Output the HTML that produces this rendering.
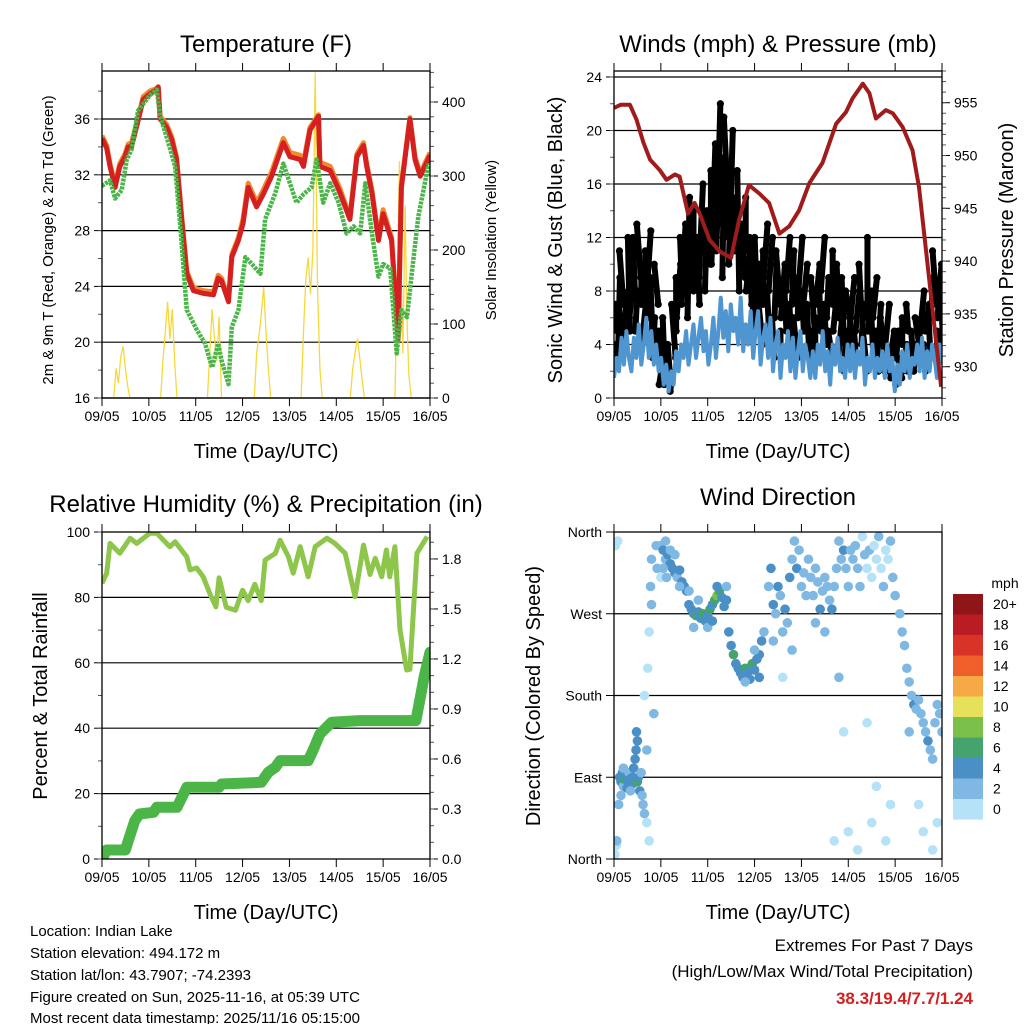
<!DOCTYPE html>
<html><head><meta charset="utf-8"><style>
html,body{margin:0;padding:0;background:#fff;}
svg{display:block;font-family:"Liberation Sans",Arial,sans-serif;}
</style></head><body>
<svg id="chart" width="1024" height="1024" viewBox="0 0 1024 1024" xmlns="http://www.w3.org/2000/svg">
<defs>
<clipPath id="c1"><rect x="102" y="71" width="328" height="327"/></clipPath>
<clipPath id="c2"><rect x="614" y="71" width="328" height="327"/></clipPath>
<clipPath id="c3"><rect x="102" y="532" width="328" height="327"/></clipPath>
<clipPath id="c4"><rect x="614" y="532" width="328" height="327"/></clipPath>
</defs>
<text x="266" y="52" font-size="24" text-anchor="middle">Temperature (F)</text>
<text x="778" y="52" font-size="24" text-anchor="middle">Winds (mph) &amp; Pressure (mb)</text>
<text x="266" y="512" font-size="24" text-anchor="middle">Relative Humidity (%) &amp; Precipitation (in)</text>
<text x="778" y="505" font-size="24" text-anchor="middle">Wind Direction</text>
<text x="266" y="458" font-size="20" text-anchor="middle">Time (Day/UTC)</text>
<text x="778" y="458" font-size="20" text-anchor="middle">Time (Day/UTC)</text>
<text x="266" y="919" font-size="20" text-anchor="middle">Time (Day/UTC)</text>
<text x="778" y="919" font-size="20" text-anchor="middle">Time (Day/UTC)</text>
<text transform="translate(53,240) rotate(-90)" font-size="15" text-anchor="middle">2m &amp; 9m T (Red, Orange) &amp; 2m Td (Green)</text>
<text transform="translate(496,240) rotate(-90)" font-size="15" text-anchor="middle">Solar Insolation (Yellow)</text>
<text transform="translate(562,240) rotate(-90)" font-size="20" text-anchor="middle">Sonic Wind &amp; Gust (Blue, Black)</text>
<text transform="translate(1013,240) rotate(-90)" font-size="20" text-anchor="middle">Station Pressure (Maroon)</text>
<text transform="translate(47,696) rotate(-90)" font-size="20" text-anchor="middle">Percent &amp; Total Rainfall</text>
<text transform="translate(540,696) rotate(-90)" font-size="20" text-anchor="middle">Direction (Colored By Speed)</text>
<g font-size="15">
<text x="30" y="936">Location: Indian Lake</text>
<text x="30" y="958">Station elevation: 494.172 m</text>
<text x="30" y="980">Station lat/lon: 43.7907; -74.2393</text>
<text x="30" y="1002">Figure created on Sun, 2025-11-16, at 05:39 UTC</text>
<text x="30" y="1023">Most recent data timestamp: 2025/11/16 05:15:00</text>
</g>
<g font-size="17" text-anchor="end">
<text x="973" y="951">Extremes For Past 7 Days</text>
<text x="973" y="977">(High/Low/Max Wind/Total Precipitation)</text>
<text x="973" y="1004" fill="#d42020" font-weight="bold">38.3/19.4/7.7/1.24</text>
</g>
</svg>
<script>
// ---------- data ----------
const dayLabels = ["09/05","10/05","11/05","12/05","13/05","14/05","15/05","16/05"];
const tempTicks = [16,20,24,28,32,36];
const solarTicks = [0,100,200,300,400];
const windTicks = [0,4,8,12,16,20,24];
const presTicks = [930,935,940,945,950,955];
const rhTicks = [0,20,40,60,80,100];
const precipTicks = ["0.0","0.3","0.6","0.9","1.2","1.5","1.8"];
const dirTickLabels = ["North","East","South","West","North"];
const speedLabels = ["20+","18","16","14","12","10","8","6","4","2","0"];
const speedColors = ["#8f1518","#b91c22","#d93226","#ef5f2a","#f6a945","#e6e05a","#7bc04b","#45a46e","#4a8fc6","#7fb9e3","#b5e2f7"];

const tT = [0,0.1,0.17,0.28,0.38,0.49,0.56,0.63,0.77,0.88,1.02,1.17,1.2,1.24,1.38,1.49,1.59,1.7,1.81,1.95,2.16,2.38,2.48,2.55,2.7,2.77,2.91,3.01,3.12,3.3,3.44,3.62,3.87,4.01,4.23,4.3,4.44,4.62,4.65,4.87,5.08,5.29,5.44,5.58,5.65,5.76,5.9,6.0,6.18,6.32,6.39,6.57,6.68,6.79,7.0];
const tempRed = [34.6,33.9,32.6,31.1,32.6,33.3,34.0,34.0,35.9,37.4,37.8,38.1,38.3,36.0,35.4,34.5,33.1,28.8,24.9,23.7,23.5,23.4,24.6,24.4,22.9,26.1,27.3,28.5,31.1,29.7,30.6,31.9,34.3,33.3,33.1,32.6,35.2,36.2,32.6,32.3,30.7,28.8,33.3,34.1,32.6,30.7,27.3,29.2,27.3,20.2,31.1,36.0,33.1,31.9,33.4];
const tempOrange = [34.8,34.1,32.8,31.3,32.8,33.5,34.2,34.3,36.1,37.6,38.0,38.2,38.3,36.2,35.6,34.7,33.3,29.0,25.1,23.9,23.7,23.6,24.8,24.6,23.1,26.3,27.5,28.8,31.4,30.0,30.9,32.2,34.6,33.6,33.4,32.9,35.4,36.3,32.9,32.6,31.0,29.0,33.5,34.3,32.8,30.9,27.5,29.5,27.5,20.4,31.3,36.1,33.3,32.1,33.6];
const tD = [0,0.17,0.28,0.42,0.53,0.63,0.77,1.02,1.17,1.24,1.38,1.56,1.67,1.81,2.02,2.2,2.35,2.48,2.55,2.7,2.77,2.91,3.06,3.2,3.38,3.48,3.7,3.87,4.04,4.15,4.3,4.47,4.58,4.72,4.87,5.05,5.22,5.37,5.51,5.62,5.76,5.9,6.0,6.15,6.29,6.39,6.51,6.62,6.75,6.97];
const dewGreen = [31.2,31.6,30.3,30.9,33.1,33.8,36.6,37.7,38.1,36.2,34.7,32.6,28.3,22.3,20.9,19.9,18.2,19.9,18.7,17.0,21.1,22.3,26.1,25.6,24.9,28.8,30.7,32.8,31.1,30.0,30.6,31.1,33.1,30.0,31.4,30.0,27.8,28.3,27.8,31.4,27.8,24.7,25.6,25.3,19.2,22.3,21.8,25.2,29.0,32.8];
const tS = [0.25,0.3,0.35,0.4,0.45,0.5,0.55,0.6,1.25,1.3,1.35,1.4,1.45,1.5,1.55,1.6,2.25,2.3,2.35,2.4,2.45,2.5,2.55,3.25,3.3,3.38,3.45,3.5,3.55,3.6,4.25,4.3,4.35,4.4,4.45,4.5,4.55,4.6,4.65,4.7,5.3,5.35,5.4,5.45,5.5,5.55,5.6,6.25,6.3,6.35,6.38,6.42,6.47,6.5,6.55,6.6];
const solar = [0,40,20,55,70,40,15,0,0,50,90,130,80,120,50,0,0,60,120,80,50,110,0,0,60,100,150,90,40,0,0,90,160,190,140,200,440,150,40,0,0,40,60,80,55,25,0,0,150,320,180,60,260,120,30,0];

const windStart = 0, windEnd = 7;
const windSpeed = [1.5,3,2,4.5,2.5,5,3, 2,4.5,3,5.5,2.5,4,6,3,5,2.5,4, 2,3,1,2.5,0.5,2,1,3.5,2,4, 3,5,2.5,4,5.5,3,4.5,6,3.5,5,2.5, 4,6,3,5,7.5,4.5,6.5,3.5,7,5,6,4,7.5,3.5,5.5,4,6.5, 3,5,6.5,2.5,4.5,5.5,3,6,2,4,5, 1.5,4,3,5,2,4.5,1.5,3.5,5,2,4,3,1.5, 3.5,1.5,4,2.5,5,2,3.5,1,4,2.5,4.5,2,3,1.5,4, 2,4,1.5,3.5,2.5,4.5,1,3,2,4,1.5,3,2, 3.5,1.5,4,2,3,0.5,2.5,1,3.5,2,4,1.5,3,2.5,4, 2,4.5,1.5,3.5,2,4,3,1.5,4,2.5];
const gustHigh = [4,7,9,11,6,8,12, 9,12,8,13,10,7,11,12.5,9,6,10, 5,3,6,2,4,1.5,7,9,10,12, 13,9,15,11,14,10,12,16,11,14,13, 17,19,14,22,17,18,21,16,20,15,14,17,12,13,15,11,12, 9,12,10,7,11,13,8,12,6,10,11, 5,10,8,12,7,11,6,9,12,8,10,7,5, 9,6,10,8,12,7,9,5,11,8,10,6,9,5,8, 6,9,5,8,10,7,5,12,8,6,9,5,7, 6,4,7,3,5,2,5,3,6,4,7,3,5,4,6, 5,8,4,7,6,9,11,5,10,8];
const gustLow = [2,5,3,7,4,6,5, 6,8,5,9,7,4,6,8,5,3,7, 3,1,2,1,2,0.5,3,5,6,8, 7,10,6,9,8,11,7,9,12,8,10, 12,10,14,11,13,9,15,12,10,11,13,8,10,9,11,8,7, 5,8,6,4,7,9,5,8,3,6,7, 3,6,5,8,4,7,3,6,8,5,7,4,3, 5,3,7,5,8,4,6,3,7,5,6,3,5,2,6, 3,6,3,5,7,4,2,6,5,3,6,2,4, 3,2,4,1.5,3,1,3,1.5,4,2,5,2,3,2,4, 3,5,2,5,3,6,7,3,6,4];
const gustOffset = [-2,1,-1,2,0,-2,1];
const tP = [0,0.14,0.34,0.48,0.63,0.77,0.98,1.12,1.3,1.4,1.58,1.72,1.83,2.04,2.26,2.5,2.67,2.88,3.1,3.31,3.53,3.74,3.95,4.17,4.45,4.74,4.95,5.09,5.31,5.45,5.59,5.8,5.95,6.16,6.37,6.51,6.73,6.98];
const pressure = [954.5,954.8,954.8,953.4,951.2,949.6,948.6,947.7,948.2,948,944.5,945.5,944.5,942.0,940.9,940.3,943.9,947.2,946.4,945.5,942.6,943.3,944.8,947.4,949.3,953.0,954.1,955.4,956.8,955.9,953.5,954.3,954.0,952.7,950.5,947.0,938.2,928.1];

const tRH = [0,0.1,0.17,0.38,0.6,0.74,1.02,1.17,1.45,1.56,1.81,1.88,2.02,2.16,2.3,2.43,2.5,2.65,2.85,3.0,3.12,3.26,3.4,3.48,3.7,3.8,3.98,4.08,4.23,4.4,4.55,4.8,4.97,5.19,5.4,5.58,5.72,5.83,5.97,6.07,6.14,6.25,6.36,6.5,6.57,6.72,6.94];
const rh = [84.3,87.4,96.5,93.5,98.1,96.5,99.6,99.6,95.5,97,92.4,88.4,89,86.3,81.2,77.1,86,77,76.1,82.2,79,84,79,91.4,93.5,97.5,92.4,87.4,95.5,86.3,95.5,98.1,96.5,93.5,80.2,96,87,92,86.3,94.5,86.3,95.5,70.1,57.8,58,93.5,98.6];
const tPr = [0,0.1,0.5,0.55,0.7,0.8,1.1,1.17,1.6,1.81,2.5,2.55,3.4,3.55,3.7,3.8,4.4,4.5,4.65,4.9,5.5,6.7,6.78,6.88,7.0];
const precip = [0,0.054,0.054,0.10,0.23,0.27,0.28,0.31,0.31,0.43,0.43,0.45,0.46,0.52,0.55,0.59,0.59,0.65,0.75,0.82,0.83,0.83,0.95,1.1,1.24];

const dirT = [0.02,0.05,0.03,0.08,0.06, 0.12,0.15,0.18,0.2,0.22,0.25,0.28,0.3,0.32,0.35,0.38,0.4,0.42,0.45,0.47,0.5,0.52,0.55,0.58,0.6,0.62,0.65,0.5,0.48,0.15,0.2,0.1,0.35, 0.65,0.7,0.72,0.75,0.78,0.8,0.85,0.7,0.75,0.8,0.9,0.92, 1.0,1.05,1.1,1.15,1.2,1.25,1.3,1.35,1.4,1.45,1.5,1.55,1.05,1.1,1.2,1.3,1.4,1.0,1.12, 1.6,1.65,1.7,1.75,1.8,1.85,1.9,1.95,2.0,2.05,2.1,2.15,2.2,2.25,2.3,2.35,2.4,1.7,1.8,2.0,2.2,2.4,1.6,2.1, 2.45,2.5,2.55,2.6,2.65, 2.7,2.75,2.8,2.85,2.9,2.95,3.0,3.05,3.1,3.15,3.2,2.8,3.0,3.1, 3.3,3.35,3.4,3.45,3.5,3.55,3.6,3.65,3.7,3.75,3.8,3.85,3.9,3.95,4.0,4.05,4.1,4.15,3.4,3.6,3.8, 4.2,4.25,4.3,4.35,4.4,4.45,4.5,4.55,4.6,4.65,4.7,4.75,4.8,4.85,4.9,4.95,5.0,4.3,4.5,4.7,4.8,4.9,5.0, 5.05,5.1,5.15,5.2,5.25,5.3,5.35,5.4,5.45,5.5,5.55,5.6,5.65,5.7,5.75,5.8,5.85,5.9,5.95,6.0,5.2,5.4,5.5,5.6,5.8,5.9, 6.1,6.15,6.2,6.25,6.3,6.35,6.4,6.45,6.5,6.55,6.6,6.65,6.7,6.75,6.8,6.85,6.9,6.95,7.0,6.3,6.5,6.6,6.8,6.9];
const dirDeg = [5,15,345,350,20, 90,85,95,80,88,92,78,85,95,88,82,90,100,110,120,85,90,75,95,70,60,50,130,140,70,100,60,75, 180,40,210,250,300,330,160,120,20,280,345,320, 345,340,330,335,325,320,315,310,318,305,300,295,320,350,340,335,300,310,310, 280,275,270,268,272,265,270,262,268,275,280,285,290,295,288,278,285,255,285,255,300,300,295,262, 250,235,225,215,210, 205,200,210,205,198,215,208,220,225,240,250,195,230,200, 300,320,280,270,300,290,250,275,260,310,330,350,320,340,300,315,290,330,240,200,230, 310,290,320,305,275,295,310,300,285,275,300,320,350,330,340,320,300,260,250,20,200,140,30, 340,330,345,320,300,355,335,320,340,310,345,330,355,320,300,340,330,350,310,290,10,150,40,80,20,60, 270,250,235,210,195,180,170,165,175,160,150,140,130,120,110,150,170,160,140,140,60,30,10,40];
const dirSpd = [1,1,1,1,2, 4,5,4,3,6,4,5,4,3,5,4,5,4,5,4,6,4,5,3,2,2,2,4,5,2,3,2,3, 1,1,1,1,2,2,2,2,1,2,2,2, 3,4,3,4,5,4,5,3,4,4,5,4,2,2,2,3,2,1,3, 4,5,4,6,5,4,6,5,4,6,5,7,8,6,5,4,5,2,3,3,4,3,3,4, 4,5,6,5,4, 5,4,6,5,4,6,5,4,5,4,3,3,3,4, 3,4,4,3,4,2,3,4,3,4,3,3,4,3,3,3,3,2,2,1,2, 3,3,2,3,4,3,3,2,3,4,3,3,2,3,4,3,3,2,2,1,2,1,1, 2,3,2,2,2,1,2,1,2,1,1,1,2,1,2,1,1,2,2,2,1,1,1,1,1,1, 2,2,3,3,3,3,4,3,3,3,3,3,4,3,3,3,2,3,3,2,1,1,1,1];

// ---------- helpers ----------
const NS = "http://www.w3.org/2000/svg";
const svg = document.getElementById("chart");
function mk(tag, attrs, parent) {
  const e = document.createElementNS(NS, tag);
  for (const k in attrs) e.setAttribute(k, attrs[k]);
  (parent || svg).appendChild(e);
  return e;
}
function xS(p, d) { return p.x0 + d / 7 * (p.x1 - p.x0); }
function pathFrom(ts, vs, fx, fy) {
  let s = "";
  for (let i = 0; i < ts.length; i++) s += (i ? "L" : "M") + fx(ts[i]).toFixed(1) + " " + fy(vs[i]).toFixed(1);
  return s;
}

const P1 = {x0:102,x1:430,y0:71,y1:398};
const P2 = {x0:614,x1:942,y0:71,y1:398};
const P3 = {x0:102,x1:430,y0:532,y1:859};
const P4 = {x0:614,x1:942,y0:532,y1:859};
const tempY = v => 398 - (v - 16) * 13.95;
const solarY = v => 398 - v * 0.74;
const windY = v => 398 - v * 13.375;
const presY = v => 366.7 - (v - 930) * 10.56;
const rhY = v => 859 - v * 3.27;
const precipY = v => 859 - v * 166.7;
const dirY = v => 859 - v / 360 * 327;

function frameAndX(p, name) {
  const g = mk("g", {});
  
  
  for (let d = 0; d <= 7; d++) {
    const x = xS(p, d);
    mk("line", {x1:x, y1:p.y1, x2:x, y2:p.y1 + 8, stroke:"#000", "stroke-width":1}, g);
    mk("line", {x1:x, y1:p.y0, x2:x, y2:p.y0 - 8, stroke:"#000", "stroke-width":1}, g);
    const t = mk("text", {x:x, y:p.y1 + 23, "font-size":14, "text-anchor":"middle"}, g);
    
    
    t.textContent = dayLabels[d];
  }
  return g;
}
function yAxis(p, g, ticks, labels, fy, side, minorStep, lo, hi, len) {
  const x = side === "left" ? p.x0 : p.x1;
  const dir = side === "left" ? -1 : 1;
  for (let i = 0; i < ticks.length; i++) {
    const y = fy(ticks[i]);
    mk("line", {x1:x, y1:y, x2:x + dir * (len || 8), y2:y, stroke:"#000", "stroke-width":1}, g);
    const t = mk("text", {x:x + dir * 12, y:y + 5, "font-size":14, "text-anchor": side === "left" ? "end" : "start"}, g);
    
    
    t.textContent = labels[i];
  }
  if (minorStep) {
    for (let v = lo; v <= hi + 1e-9; v += minorStep) {
      const y = fy(v);
      if (y < p.y0 - 0.5 || y > p.y1 + 0.5) continue;
      mk("line", {x1:x, y1:y, x2:x + dir * 4, y2:y, stroke:"#555", "stroke-width":1}, g);
    }
  }
}
function grid(p, vals, fy, color) {
  for (const v of vals) {
    const y = fy(v);
    const l = mk("line", {x1:p.x0, y1:y, x2:p.x1, y2:y, stroke:color || "#000", "stroke-width":1.2});
    
    
  }
}
function box(p) {
  const r = mk("rect", {x:p.x0, y:p.y0, width:p.x1 - p.x0, height:p.y1 - p.y0, fill:"none", stroke:"#000", "stroke-width":1.3});
  
  
}

// ---------- Panel 1: temperature ----------
grid(P1, [16,20,24,28,32,36], tempY);
const g1 = mk("g", {"clip-path":"url(#c1)"});


const solarLine = mk("path", {d:pathFrom(tS, solar, d => xS(P1, d), solarY), fill:"none", stroke:"#f7d83a", "stroke-width":1.3}, g1);


const orangeLine = mk("path", {d:pathFrom(tT, tempOrange, d => xS(P1, d), tempY), fill:"none", stroke:"#f08a30", "stroke-width":5, "stroke-linejoin":"round"}, g1);


const redLine = mk("path", {d:pathFrom(tT, tempRed, d => xS(P1, d), tempY), fill:"none", stroke:"#d42020", "stroke-width":5, "stroke-linejoin":"round"}, g1);


const dewLine = mk("path", {d:pathFrom(tD, dewGreen, d => xS(P1, d), tempY), fill:"none", stroke:"#4bb548", "stroke-width":4.5, "stroke-dasharray":"3 1", "stroke-linejoin":"round"}, g1);


const ax1 = frameAndX(P1, "temperature");
yAxis(P1, ax1, tempTicks, tempTicks.map(String), tempY, "left", 2, 16, 40);
yAxis(P1, ax1, solarTicks, solarTicks.map(String), solarY, "right", 20, 0, 440);
box(P1);

// ---------- Panel 2: winds ----------
grid(P2, [4,8,12,16,20,24], windY);
const g2 = mk("g", {"clip-path":"url(#c2)"});


const n = windSpeed.length;
const wt = i => windStart + i * (windEnd - windStart) / (n - 1);
for (let i = 0; i < n; i++) {
  const x = xS(P2, wt(i));
  const off = gustOffset[i % gustOffset.length];
  const seg = mk("line", {x1:x + off, y1:windY(gustLow[i]), x2:x - off, y2:windY(gustHigh[i]), stroke:"#000", "stroke-width":6, "stroke-linecap":"round"}, g2);
  
  
  const c1 = mk("circle", {cx:x - off, cy:windY(gustHigh[i]), r:3.6, fill:"#000"}, g2);
  
  
  const c2 = mk("circle", {cx:x + off, cy:windY(gustLow[i]), r:3.6, fill:"#000"}, g2);
  
  
}
let wpath = "";
for (let i = 0; i < n; i++) wpath += (i ? "L" : "M") + xS(P2, wt(i)).toFixed(1) + " " + windY(windSpeed[i]).toFixed(1);
const windLine = mk("path", {d:wpath, fill:"none", stroke:"#4f95cf", "stroke-width":4, "stroke-linejoin":"round"}, g2);


const presLine = mk("path", {d:pathFrom(tP, pressure, d => xS(P2, d), presY), fill:"none", stroke:"#a01c1c", "stroke-width":4, "stroke-linejoin":"round"}, g2);


const ax2 = frameAndX(P2, "winds");
yAxis(P2, ax2, windTicks, windTicks.map(String), windY, "left", 2, 0, 24);
yAxis(P2, ax2, presTicks, presTicks.map(String), presY, "right", 1, 927, 960);
box(P2);

// ---------- Panel 3: RH & precip ----------
grid(P3, [20,40,60,80], rhY);
const g3 = mk("g", {"clip-path":"url(#c3)"});


const precipLine = mk("path", {d:pathFrom(tPr, precip, d => xS(P3, d), precipY), fill:"none", stroke:"#4bb548", "stroke-width":11, "stroke-linejoin":"round", "stroke-linecap":"round"}, g3);


const rhLine = mk("path", {d:pathFrom(tRH, rh, d => xS(P3, d), rhY), fill:"none", stroke:"#8dc64b", "stroke-width":5, "stroke-linejoin":"round"}, g3);


const ax3 = frameAndX(P3, "humidity");
yAxis(P3, ax3, rhTicks, rhTicks.map(String), rhY, "left", 10, 0, 100);
yAxis(P3, ax3, precipTicks.map(Number), precipTicks, precipY, "right", 0.1, 0, 1.95);
box(P3);

// ---------- Panel 4: wind direction ----------
grid(P4, [90,180,270], dirY);
const g4 = mk("g", {"clip-path":"url(#c4)"});


for (let i = 0; i < dirT.length; i++) {
  const idx = Math.min(10, Math.floor(dirSpd[i] / 2));
  const c = mk("circle", {cx:xS(P4, dirT[i]), cy:dirY(dirDeg[i]), r:4.8, fill:speedColors[10 - idx]}, g4);
  
  
}
const ax4 = frameAndX(P4, "wind-direction");
yAxis(P4, ax4, [0,90,180,270,360], dirTickLabels, dirY, "left", 0, 0, 0);
box(P4);

// colorbar
const cb = mk("g", {});


const mph = mk("text", {x:1005, y:588, "font-size":14, "text-anchor":"middle"}, cb);


mph.textContent = "mph";
for (let i = 0; i < speedColors.length; i++) {
  const y = 594 + i * 20.5;
  const r = mk("rect", {x:953, y:y, width:30, height:20.6, fill:speedColors[i]}, cb);
  
  
  const t = mk("text", {x:993, y:y + 15, "font-size":14}, cb);
  
  
  t.textContent = speedLabels[i];
}
</script>
</body></html>
